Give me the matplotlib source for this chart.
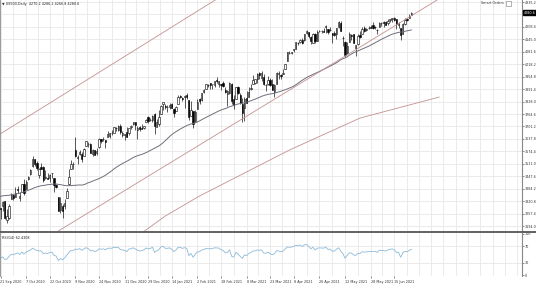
import numpy as np
import pandas as pd
from matplotlib import pyplot as plt
from matplotlib.lines import Line2D
from matplotlib.patches import Rectangle

# closes before the first visible bar, only used to warm up MA(50) and RSI(14)
closes_before = [3152, 3185, 3155, 3197, 3227, 3215, 3224, 3251, 3257, 3276, 3236, 3216, 3239, 3218, 3258, 3246, 3271,
                 3295, 3306, 3328, 3349, 3351, 3360, 3333, 3380, 3373, 3373, 3382, 3390, 3375, 3385, 3397, 3431, 3443,
                 3479, 3485, 3508, 3500,
                 3527, 3580, 3455, 3427, 3332, 3399, 3339, 3341, 3384, 3401, 3385, 3357, 3319]

# daily bars 21 Sep 2020 .. 25 Jun 2021
opens = [3285, 3295, 3320, 3226, 3236, 3334, 3350, 3341,
         3385, 3338, 3368, 3408, 3384, 3434, 3459, 3500, 3534, 3515, 3453, 3493, 3494, 3440, 3440, 3438, 3464, 3441, 3403, 3342, 3277, 3294,
         3297, 3337, 3406, 3485, 3508, 3583, 3543, 3563, 3562, 3552, 3601, 3611, 3612, 3559, 3579, 3567, 3595, 3635, 3638, 3634,
         3645, 3654, 3669, 3670, 3694, 3683, 3706, 3659, 3656, 3675, 3666, 3696, 3714, 3722, 3684, 3698, 3693, 3694, 3723, 3751, 3736, 3734,
         3764, 3699, 3713, 3764, 3815, 3803, 3802, 3802, 3815, 3788, 3781, 3816, 3857, 3845, 3851, 3863, 3836, 3755, 3778,
         3731, 3791, 3840, 3836, 3878, 3893, 3911, 3921, 3918, 3911, 3940, 3918, 3916, 3921, 3886, 3865, 3873, 3915, 3839,
         3842, 3903, 3863, 3818, 3793, 3844, 3852, 3891, 3916, 3924, 3943, 3974, 3949, 3953, 3914, 3917, 3937, 3919, 3879, 3917, 3969, 3963, 3967,
         3992, 4034, 4075, 4074, 4089, 4096, 4124, 4130, 4141, 4140, 4175, 4180, 4159, 4128, 4170, 4139, 4185, 4188, 4185, 4206, 4199,
         4191, 4179, 4177, 4170, 4210, 4228, 4150, 4131, 4075, 4130, 4169, 4170, 4099, 4122, 4168, 4170, 4205, 4191, 4201, 4210,
         4217, 4206, 4191, 4207, 4229, 4234, 4233, 4229, 4243, 4248, 4256, 4249, 4220, 4204, 4174, 4224, 4249, 4256, 4270.2]
highs = [3286, 3320, 3323, 3279, 3306, 3360, 3357, 3393,
         3397, 3369, 3409, 3432, 3426, 3447, 3483, 3550, 3534, 3527, 3489, 3515, 3502, 3477, 3465, 3460, 3466, 3441, 3410, 3342, 3342, 3305,
         3331, 3389, 3486, 3529, 3521, 3646, 3557, 3582, 3570, 3593, 3628, 3624, 3619, 3586, 3582, 3590, 3643, 3638, 3645, 3634,
         3679, 3670, 3683, 3699, 3698, 3708, 3712, 3678, 3665, 3697, 3695, 3711, 3725, 3726, 3703, 3703, 3712, 3704, 3740, 3757, 3744, 3760,
         3770, 3738, 3783, 3811, 3827, 3818, 3810, 3821, 3823, 3795, 3805, 3859, 3861, 3852, 3860, 3871, 3837, 3830, 3778,
         3784, 3843, 3848, 3872, 3894, 3916, 3919, 3925, 3920, 3935, 3951, 3933, 3916, 3931, 3902, 3886, 3929, 3925, 3862,
         3903, 3906, 3874, 3844, 3851, 3882, 3903, 3918, 3961, 3944, 3971, 3981, 3984, 3969, 3919, 3956, 3950, 3942, 3919, 3978, 3982, 3968, 3994,
         4020, 4083, 4087, 4083, 4098, 4129, 4131, 4148, 4151, 4173, 4191, 4181, 4160, 4175, 4179, 4195, 4194, 4193, 4201, 4218, 4199,
         4209, 4179, 4187, 4202, 4238, 4236, 4162, 4134, 4131, 4183, 4173, 4170, 4117, 4172, 4188, 4209, 4213, 4203, 4213, 4218,
         4234, 4212, 4198, 4234, 4232, 4236, 4237, 4249, 4249, 4255, 4257, 4251, 4233, 4204, 4226, 4256, 4256, 4272, 4286.2]
lows = [3229, 3270, 3232, 3209, 3228, 3332, 3327, 3340,
        3361, 3323, 3367, 3354, 3384, 3428, 3456, 3496, 3500, 3480, 3441, 3483, 3419, 3434, 3433, 3416, 3440, 3365, 3388, 3269, 3259, 3233,
        3279, 3336, 3405, 3485, 3485, 3547, 3511, 3557, 3519, 3552, 3600, 3595, 3567, 3552, 3556, 3554, 3594, 3617, 3629, 3594,
        3645, 3644, 3658, 3670, 3679, 3678, 3661, 3645, 3634, 3645, 3660, 3690, 3710, 3685, 3636, 3678, 3689, 3690, 3723, 3720, 3730, 3726,
        3663, 3697, 3706, 3764, 3785, 3789, 3777, 3792, 3793, 3750, 3780, 3816, 3845, 3831, 3797, 3841, 3732, 3756, 3694,
        3725, 3791, 3817, 3829, 3874, 3892, 3903, 3891, 3890, 3900, 3924, 3901, 3885, 3902, 3874, 3805, 3867, 3815, 3789,
        3842, 3868, 3818, 3723, 3730, 3819, 3852, 3885, 3916, 3915, 3923, 3943, 3935, 3910, 3884, 3911, 3905, 3889, 3853, 3917, 3943, 3944, 3966,
        3992, 4034, 4069, 4068, 4082, 4095, 4114, 4124, 4120, 4139, 4171, 4150, 4119, 4126, 4124, 4139, 4183, 4177, 4181, 4176, 4174,
        4188, 4128, 4160, 4147, 4202, 4188, 4111, 4057, 4070, 4130, 4143, 4127, 4061, 4115, 4151, 4170, 4182, 4190, 4198, 4204,
        4198, 4198, 4173, 4206, 4215, 4210, 4218, 4220, 4233, 4234, 4238, 4196, 4203, 4140, 4174, 4217, 4240, 4256, 4266.8]
closes = [3281, 3315, 3237, 3246, 3298, 3351, 3335, 3363,
          3380, 3348, 3408, 3361, 3419, 3446, 3477, 3534, 3512, 3489, 3483, 3484, 3427, 3443, 3436, 3453, 3465, 3401, 3391, 3271, 3310, 3270,
          3310, 3370, 3443, 3510, 3509, 3550, 3545, 3572, 3537, 3585, 3627, 3610, 3568, 3582, 3558, 3578, 3635, 3629, 3638, 3622,
          3662, 3669, 3666, 3699, 3692, 3702, 3673, 3668, 3663, 3647, 3695, 3702, 3722, 3709, 3695, 3687, 3690, 3703, 3735, 3727, 3732, 3756,
          3701, 3726, 3748, 3804, 3825, 3799, 3801, 3810, 3795, 3768, 3798, 3852, 3853, 3841, 3855, 3849, 3751, 3787, 3714,
          3774, 3826, 3830, 3872, 3887, 3915, 3911, 3910, 3916, 3934, 3933, 3931, 3913, 3906, 3877, 3881, 3925, 3829, 3811,
          3901, 3870, 3820, 3768, 3842, 3821, 3875, 3898, 3939, 3943, 3969, 3962, 3974, 3916, 3913, 3940, 3911, 3889, 3910, 3975, 3971, 3959, 3973,
          4020, 4078, 4074, 4080, 4097, 4129, 4128, 4142, 4125, 4171, 4185, 4163, 4135, 4173, 4135, 4180, 4188, 4187, 4184, 4211, 4181,
          4193, 4165, 4168, 4202, 4233, 4189, 4153, 4063, 4113, 4174, 4164, 4128, 4116, 4160, 4156, 4197, 4189, 4196, 4201, 4204,
          4202, 4208, 4192, 4230, 4227, 4227, 4220, 4239, 4247, 4255, 4246, 4223, 4222, 4166, 4224, 4246, 4242, 4266, 4280.6]

date_labels = ["21 Sep 2020", "7 Oct 2020", "22 Oct 2020", "9 Nov 2020", "24 Nov 2020", "11 Dec 2020",
               "29 Dec 2020", "14 Jan 2021", "2 Feb 2021", "18 Feb 2021", "8 Mar 2021", "23 Mar 2021",
               "8 Apr 2021", "26 Apr 2021", "12 May 2021", "28 May 2021", "15 Jun 2021"]
label_bars = [0, 12, 23, 35, 46, 58, 69, 80, 92, 103, 115, 126, 137, 149, 161, 173, 184]

price_ticks = [3194.0, 3257.4, 3320.8, 3384.2, 3447.6, 3511.0, 3574.4, 3637.8, 3701.2, 3764.6, 3828.0,
               3891.4, 3954.8, 4018.2, 4081.6, 4145.0, 4208.4, 4271.8, 4335.2]
rsi_ticks = [0, 30, 70, 100]

# channel lines (bar, price) and the lower curved line
channel_upper = [(0, 3664), (100, 4343)]
channel_mid = [(28, 3175), (204, 4345)]
lower_line_bars = [66.6, 77, 93, 135, 168, 205]
lower_line_prices = [3163, 3245, 3347, 3581, 3744, 3851]

# indicators
allc = pd.Series(closes_before + closes, dtype=float)
ma50 = allc.rolling(50).mean().iloc[len(closes_before):].values
delta = allc.diff()
gain = delta.clip(lower=0).ewm(alpha=1 / 14, adjust=False).mean()
loss = (-delta.clip(upper=0)).ewm(alpha=1 / 14, adjust=False).mean()
rsi = (100 - 100 / (1 + gain / loss)).iloc[len(closes_before):].values

o, h, l, c = map(np.array, (opens, highs, lows, closes))
x = np.arange(len(c))

W, H = 536, 284
fs = 2.4
fig = plt.figure(figsize=(W / 100, H / 100), dpi=100)
ax = fig.add_axes([0, 1 - 231 / H, 522 / W, 231 / H])
axr = fig.add_axes([0, 1 - 276 / H, 522 / W, 43 / H])

xlim = (-0.5 / 2.14, 521.5 / 2.14)
grid_x = sorted(label_bars + [(a + b) / 2 for a, b in zip(label_bars[:-1], label_bars[1:])]
                + [label_bars[-1] + 5.75 * k for k in range(1, 11)])
gridc = '#e8e8e8'
for a in (ax, axr):
    a.set_xlim(*xlim)
    for gx in grid_x:
        a.axvline(gx, color=gridc, lw=0.6, zorder=0)
    for s in ('top', 'bottom'):
        a.spines[s].set_visible(False)
    a.spines['left'].set_color('#888888')
    a.spines['left'].set_linewidth(0.6)
    a.spines['right'].set_color('#888888')
    a.spines['right'].set_linewidth(0.8)
    a.yaxis.tick_right()
    a.tick_params(axis='y', labelsize=fs, length=1.2, width=0.4, pad=0.6, colors='#333333')

# main panel
top = 4335.2 + 2 * 5.094
ax.set_ylim(top - 231 * 5.094, top)
ax.set_yticks(price_ticks)
# the label under the current price box is hidden, as in the terminal
ax.set_yticklabels([f"{t:.1f}" if abs(t - closes[-1]) > 20 else "" for t in price_ticks])
for t in price_ticks:
    ax.axhline(t, color=gridc, lw=0.6, zorder=0)
ax.set_xticks([])

up = c >= o
ax.vlines(x, l, h, color='black', lw=0.45, zorder=2)
ax.bar(x[up], np.maximum(c - o, 0.8)[up], bottom=o[up], width=0.62, color='white',
       edgecolor='black', linewidth=0.4, zorder=3)
ax.bar(x[~up], (o - c)[~up], bottom=c[~up], width=0.62, color='black',
       edgecolor='black', linewidth=0.4, zorder=3)

ax.plot(x, ma50, color='#6f6f7c', lw=0.7, zorder=4)
chan_col = '#c49090'
ax.axline(channel_upper[0], channel_upper[1], color=chan_col, lw=0.6, zorder=1)
ax.axline(channel_mid[0], channel_mid[1], color=chan_col, lw=0.6, zorder=4)
ax.plot(lower_line_bars, lower_line_prices, color=chan_col, lw=0.6, zorder=1)

ax.text(0.004, 0.993, "\u25bc US500,Daily  4270.2 4286.2 4266.8 4280.6", transform=ax.transAxes,
        fontsize=fs, va='top', ha='left', color='#222222')
fig.text(504 / W, 1 - 3.5 / H, "Smart Orders", fontsize=fs, ha='right', va='center', color='#333333')
fig.patches.append(Rectangle((506 / W, 1 - 6 / H), 4.5 / W, 4.5 / H, transform=fig.transFigure,
                             facecolor='white', edgecolor='#777777', lw=0.4))
# current price box
ax.annotate(f"{c[-1]:.1f}", xy=(1, c[-1]), xycoords=('axes fraction', 'data'), xytext=(1.0, 0),
            textcoords='offset points', fontsize=fs, color='white', va='center', ha='left',
            bbox=dict(boxstyle='square,pad=0.2', fc='black', ec='black'), annotation_clip=False, zorder=10)

# RSI panel
axr.set_ylim(-2.4, 102.4)
axr.set_yticks(rsi_ticks)
axr.set_yticklabels([str(t) for t in rsi_ticks])
for t in (30, 70):
    axr.axhline(t, color=gridc, lw=0.6, zorder=0)
axr.plot(x, rsi, color='#8cbad9', lw=0.6)
axr.text(0.004, 0.92, "RSI(14) 62.4308", transform=axr.transAxes, fontsize=fs, va='top',
         ha='left', color='#222222')
axr.set_xticks(label_bars)
axr.set_xticklabels(date_labels, ha='left')
axr.tick_params(axis='x', labelsize=fs, length=1.2, width=0.4, pad=1.5, colors='#333333')

fig.add_artist(Line2D([0, 1], [1 - 232 / H] * 2, color='#555555', lw=1.3))

fig.savefig('out.png', dpi=100, facecolor='white')
